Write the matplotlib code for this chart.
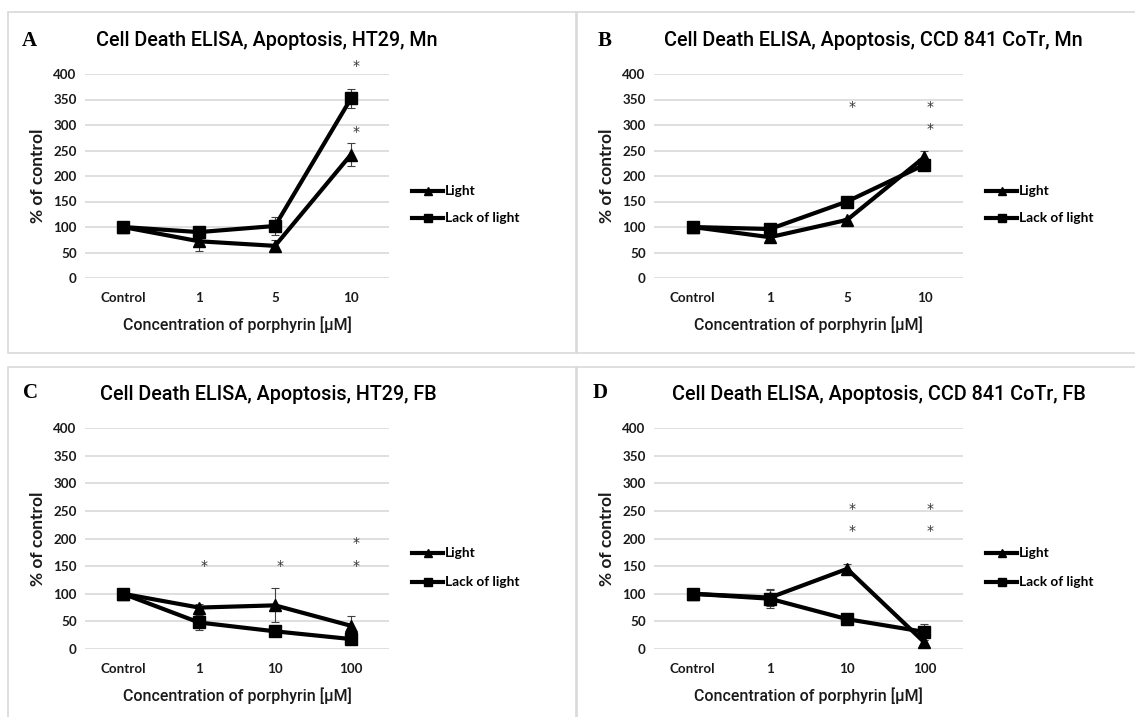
import numpy as np
import matplotlib
matplotlib.use("Agg")
from matplotlib import pyplot as plt
from matplotlib.patches import Rectangle
from matplotlib.lines import Line2D

plt.rcParams['font.family'] = ['Lato', 'DejaVu Sans']

# data
cats_mn = ['Control', '1', '5', '10']
cats_fb = ['Control', '1', '10', '100']

a_light = [100, 72, 63, 242]
a_light_err = [0, 20, 12, 22]
a_dark = [100, 90, 102, 352]
a_dark_err = [0, 5, 17, 18]
a_stars = [(3, 416), (3, 287)]

b_light = [100, 80, 114, 237]
b_light_err = [0, 4, 4, 12]
b_dark = [100, 96, 150, 222]
b_dark_err = [0, 4, 5, 6]
b_stars = [(2, 335), (3, 335), (3, 292)]

c_light = [100, 75, 79, 42]
c_light_err = [0, 6, 31, 17]
c_dark = [100, 48, 32, 18]
c_dark_err = [0, 14, 4, 5]
c_stars = [(1, 150), (2, 150), (3, 191), (3, 150)]

d_light = [100, 93, 145, 12]
d_light_err = [0, 15, 9, 4]
d_dark = [100, 91, 54, 31]
d_dark_err = [0, 16, 10, 14]
d_stars = [(2, 254), (2, 214), (3, 254), (3, 214)]

W, H = 1135, 717
fig = plt.figure(figsize=(W / 100, H / 100), dpi=100)

txt = '#1a1a1a'
grid = '#d9d9d9'


def box(x0, y0, x1, y1):
    fig.patches.append(Rectangle((x0 / W, 1 - y1 / H), (x1 - x0) / W, (y1 - y0) / H,
                                 transform=fig.transFigure, fill=False,
                                 edgecolor=grid, linewidth=1.2))


def panel(rect, letter, letter_xy, title, title_xy, cats, light, light_err, dark, dark_err,
          stars, leg_y, leg_gap):
    x0, y0, x1, y1 = rect
    ax = fig.add_axes([x0 / W, 1 - y1 / H, (x1 - x0) / W, (y1 - y0) / H])
    x = np.arange(len(cats))
    ax.errorbar(x, light, yerr=light_err, color='black', linewidth=3, marker='^',
                markersize=9, ecolor='#404040', elinewidth=0.8, capsize=3, capthick=0.8,
                zorder=3)
    ax.errorbar(x, dark, yerr=dark_err, color='black', linewidth=3, marker='s',
                markersize=9, ecolor='#404040', elinewidth=0.8, capsize=3, capthick=0.8,
                zorder=3)
    for sx, sy in stars:
        ax.text(sx + 0.07, sy, '*', ha='center', va='center', fontsize=10,
                family='DejaVu Sans', color='#333333', clip_on=False)
    ax.set_xlim(-0.5, len(cats) - 0.5)
    ax.set_ylim(0, 400)
    ax.set_yticks(np.arange(0, 401, 50))
    ax.set_xticks(x)
    ax.set_xticklabels(cats)
    ax.grid(axis='y', color=grid, linewidth=1.2)
    ax.set_axisbelow(True)
    for s in ax.spines.values():
        s.set_visible(False)
    ax.tick_params(length=0, labelsize=9.6, colors=txt, pad=6)
    for lab in ax.get_xticklabels() + ax.get_yticklabels():
        lab.set_fontweight('bold')
    ax.tick_params(axis='x', pad=10)
    ax.set_ylabel('% of control', fontsize=12.5, fontweight='bold', color=txt, labelpad=5)
    ax.set_xlabel('Concentration of porphyrin [µM]', fontsize=11.5, color=txt, labelpad=9,
                  family='Roboto', fontweight='medium')
    fig.text(title_xy[0] / W, 1 - title_xy[1] / H, title, fontsize=14.2, color='black',
             ha='center', va='center', family='Roboto', fontweight='medium')
    fig.text(letter_xy[0] / W, 1 - letter_xy[1] / H, letter, fontsize=15, fontweight='bold',
             family='Liberation Serif', va='center', ha='left')
    # legend rows in pixels
    lx = x1 + 23
    for i, (lab, mk) in enumerate([('Light', '^'), ('Lack of light', 's')]):
        yy = leg_y + i * leg_gap
        fig.lines.append(Line2D([lx / W, (lx + 31) / W], [1 - yy / H, 1 - yy / H],
                                transform=fig.transFigure, color='black', linewidth=3))
        fig.lines.append(Line2D([(lx + 15.5) / W], [1 - yy / H], transform=fig.transFigure,
                                color='black', marker=mk, markersize=5.5, linestyle='none'))
        fig.text((lx + 33) / W, 1 - yy / H, lab, fontsize=9.8, fontweight='bold',
                 color='black', va='center', ha='left')
    return ax


box(8, 12, 577, 353)
box(576, 12, 1140, 353)
box(8, 367, 577, 725)
box(576, 367, 1140, 725)

panel((85, 74, 389, 278), 'A', (22, 41), 'Cell Death ELISA, Apoptosis, HT29, Mn', (267, 41),
      cats_mn, a_light, a_light_err, a_dark, a_dark_err, a_stars, 191, 27)
panel((654, 74, 963, 278), 'B', (598, 41), 'Cell Death ELISA, Apoptosis, CCD 841 CoTr, Mn',
      (873, 41), cats_mn, b_light, b_light_err, b_dark, b_dark_err, b_stars, 191, 27)
panel((85, 428, 389, 649), 'C', (23, 393), 'Cell Death ELISA, Apoptosis, HT29, FB', (268, 394),
      cats_fb, c_light, c_light_err, c_dark, c_dark_err, c_stars, 553, 29)
panel((654, 428, 963, 649), 'D', (593, 393), 'Cell Death ELISA, Apoptosis, CCD 841 CoTr, FB',
      (879, 394), cats_fb, d_light, d_light_err, d_dark, d_dark_err, d_stars, 553, 29)

plt.savefig('out.png', dpi=100)
